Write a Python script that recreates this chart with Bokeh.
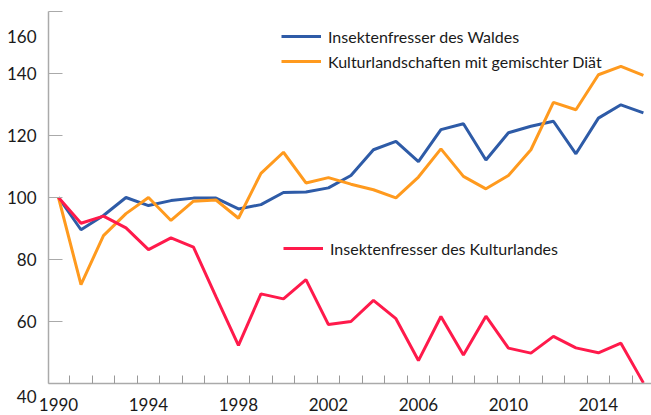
from bokeh.plotting import figure
from bokeh.models import FixedTicker, Range1d, Legend, LegendItem
from bokeh.embed import file_html
from bokeh.resources import INLINE

years = list(range(1990, 2017))
wald = [100, 89.6, 94.2, 100, 97.4, 99, 99.8, 99.8, 96.3, 97.7, 101.6, 101.8, 103.1,
        107.1, 115.4, 118.1, 111.6, 121.9, 123.8, 112.1, 120.9, 123.0, 124.6, 114.1,
        125.6, 129.9, 127.3]
gemischt = [100, 71.9, 87.7, 94.8, 100, 92.6, 98.8, 99.2, 93.3, 107.8, 114.6, 104.7,
            106.4, 104.3, 102.5, 99.9, 106.6, 115.7, 106.8, 102.8, 107.1, 115.4, 130.7,
            128.3, 139.6, 142.3, 139.4]
kultur = [100, 91.7, 94.0, 90.2, 83.2, 87.0, 84.0, 68.0, 52.3, 68.9, 67.3, 73.5, 59.0,
          60.0, 66.8, 60.9, 47.4, 61.6, 49.2, 61.7, 51.4, 49.8, 55.2, 51.5, 49.9, 53.0, 40.2]

names = ["Insektenfresser des Waldes", "Kulturlandschaften mit gemischter Diät",
         "Insektenfresser des Kulturlandes"]
colors = ["#2E5BA7", "#FF9A1E", "#FF1A4B"]

x_labels = [1990, 1994, 1998, 2002, 2006, 2010, 2014]
y_ticks = [40, 60, 80, 100, 120, 140, 160]

FONT = "Lato"

p = figure(width=651, height=415, output_backend="svg", toolbar_location=None,
           x_range=Range1d(1989.556, 2016.36), y_range=Range1d(40, 160),
           min_border_left=48, min_border_right=0, min_border_top=11, min_border_bottom=32)
p.outline_line_color = None
p.grid.grid_line_color = None
p.background_fill_color = "white"

r_w = p.line(years, wald, line_color=colors[0], line_width=3)
r_g = p.line(years, gemischt, line_color=colors[1], line_width=3)
r_k = p.line(years, kultur, line_color=colors[2], line_width=3)

xa = p.xaxis[0]
xa.ticker = FixedTicker(ticks=x_labels, minor_ticks=[y + 0.5 for y in years[:-1]])
xa.major_tick_line_color = None
xa.major_tick_in = 0
xa.major_tick_out = 0
xa.minor_tick_in = 8
xa.minor_tick_out = 0
xa.minor_tick_line_color = "#999999"
xa.axis_line_color = "#aaaaaa"
xa.axis_line_width = 1.5
xa.major_label_standoff = 14
xa.major_label_text_font = FONT
xa.major_label_text_font_size = "17px"
xa.major_label_text_color = "#1a1a1a"

ya = p.yaxis[0]
ya.ticker = FixedTicker(ticks=y_ticks)
ya.minor_tick_line_color = None
ya.major_tick_in = 14
ya.major_tick_out = 0
ya.major_tick_line_color = "#aaaaaa"
ya.axis_line_color = "#aaaaaa"
ya.axis_line_width = 1.5
ya.major_label_standoff = 12
ya.major_label_text_font = FONT
ya.major_label_text_font_size = "17px"
ya.major_label_text_color = "#1a1a1a"
ya.major_label_overrides = {160: "\n160", 40: "\n40"}

def make_legend(items, loc):
    lg = Legend(items=items, location=loc, glyph_width=40, glyph_height=20,
                label_text_font=FONT, label_text_font_size="16px",
                label_text_color="#1a1a1a", background_fill_alpha=0,
                border_line_color=None, spacing=5, padding=0, margin=0,
                label_standoff=7, label_height=20)
    p.add_layout(lg, "center")

make_legend([LegendItem(label=names[0], renderers=[r_w]),
             LegendItem(label=names[1], renderers=[r_g])], (233, 312))
make_legend([LegendItem(label=names[2], renderers=[r_k])], (235, 125))

open("out.html", "w").write(file_html(p, INLINE))
